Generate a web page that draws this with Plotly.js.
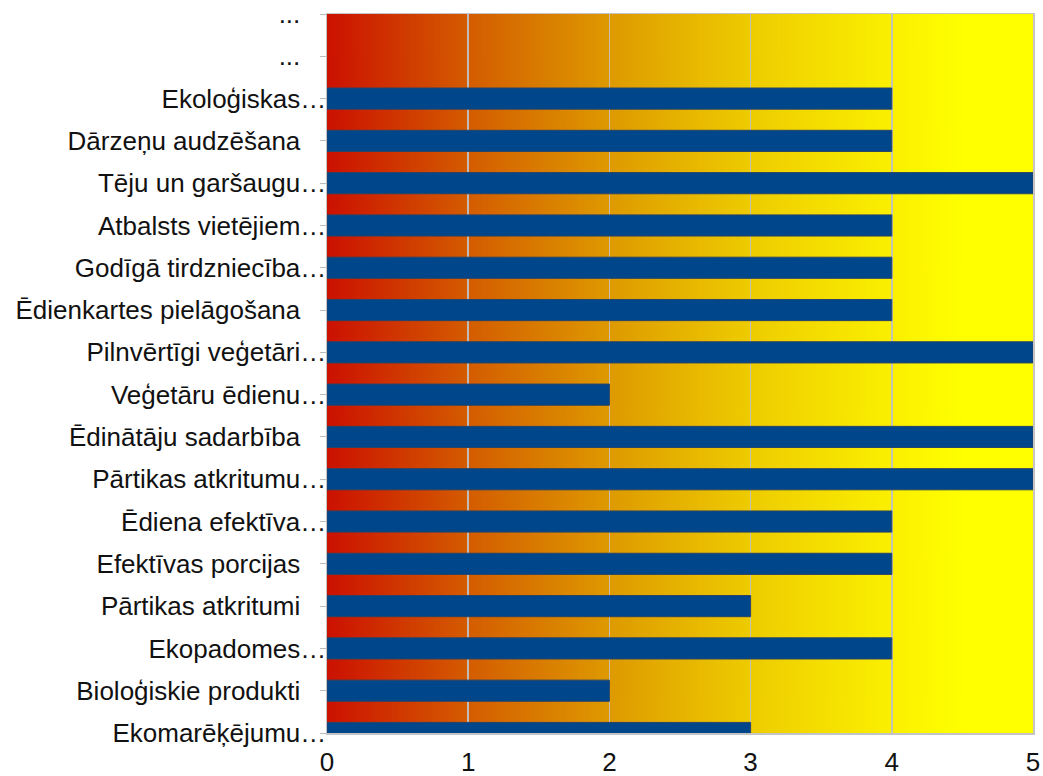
<!DOCTYPE html>
<html>
<head>
<meta charset="utf-8">
<script src="https://cdn.plot.ly/plotly-3.0.1.min.js"></script>
<style>
  html, body { margin: 0; padding: 0; background: #ffffff; }
  #chart { width: 1043px; height: 776px; }
</style>
</head>
<body>
<div id="chart"></div>
<script>
// Categories listed top to bottom
const categories = [
  "...",
  "...",
  "Ekoloģiskas…",
  "Dārzeņu audzēšana",
  "Tēju un garšaugu…",
  "Atbalsts vietējiem…",
  "Godīgā tirdzniecība…",
  "Ēdienkartes pielāgošana",
  "Pilnvērtīgi veģetāri…",
  "Veģetāru ēdienu…",
  "Ēdinātāju sadarbība",
  "Pārtikas atkritumu…",
  "Ēdiena efektīva…",
  "Efektīvas porcijas",
  "Pārtikas atkritumi",
  "Ekopadomes…",
  "Bioloģiskie produkti",
  "Ekomarēķējumu…"
];
const values = [null, null, 4, 4, 5, 4, 4, 4, 5, 2, 5, 5, 4, 4, 3, 4, 2, 3];
const xTicks = [0, 1, 2, 3, 4, 5];

// background gradient colour stops (red -> yellow)
const gradientStops = [
  [0.00, "#cc1100"],
  [0.20, "#d45c00"],
  [0.40, "#de9a00"],
  [0.60, "#eecc00"],
  [0.80, "#fbf000"],
  [0.90, "#ffff00"],
  [1.00, "#ffff00"]
];

function gradientImage() {
  const c = document.createElement("canvas");
  c.width = 1000; c.height = 10;
  const ctx = c.getContext("2d");
  const g = ctx.createLinearGradient(0, 0, 1000, 0);
  gradientStops.forEach(s => g.addColorStop(s[0], s[1]));
  ctx.fillStyle = g;
  ctx.fillRect(0, 0, 1000, 10);
  return c.toDataURL("image/png");
}

const idx = categories.map((_, i) => i);
const tickText = categories.map(l => l.endsWith("…") ? l : l + "\u2003");

const trace = {
  type: "bar",
  orientation: "h",
  x: values,
  y: idx,
  width: 0.5,
  marker: { color: "#00468a", line: { color: "#2a4466", width: 1 } },
  hoverinfo: "x+y"
};

const layout = {
  width: 1043,
  height: 776,
  margin: { l: 327, r: 10, t: 14, b: 43, pad: 0 },
  paper_bgcolor: "#ffffff",
  plot_bgcolor: "rgba(0,0,0,0)",
  showlegend: false,
  bargap: 0,
  font: { family: "Liberation Sans, Arial, sans-serif", color: "#111111" },
  xaxis: {
    range: [0, 5],
    tickmode: "array",
    tickvals: xTicks,
    ticktext: xTicks.map(String),
    showgrid: true,
    gridcolor: "rgba(192,192,192,0.95)",
    gridwidth: 1.5,
    zeroline: false,
    showline: true,
    linecolor: "#c4c4c4",
    linewidth: 1.5,
    mirror: true,
    ticks: "",
    ticklabelstandoff: 5,
    ticklabeloverflow: "allow",
    tickfont: { size: 26, color: "#111111" },
    fixedrange: true
  },
  yaxis: {
    range: [17, 0],
    tickmode: "array",
    tickvals: idx,
    ticktext: tickText,
    showgrid: false,
    zeroline: false,
    showline: true,
    linecolor: "#c4c4c4",
    linewidth: 1.5,
    mirror: true,
    ticks: "outside",
    ticklen: 6,
    tickcolor: "#bbbbbb",
    ticklabelstandoff: -12,
    ticklabeloverflow: "allow",
    tickfont: { size: 26, color: "#111111" },
    fixedrange: true
  },
  images: [{
    source: gradientImage(),
    xref: "x", yref: "paper",
    x: 0, y: 1,
    sizex: 5, sizey: 1,
    xanchor: "left", yanchor: "top",
    sizing: "stretch",
    layer: "below"
  }]
};

Plotly.newPlot("chart", [trace], layout, { displayModeBar: false, staticPlot: true });
</script>
</body>
</html>
